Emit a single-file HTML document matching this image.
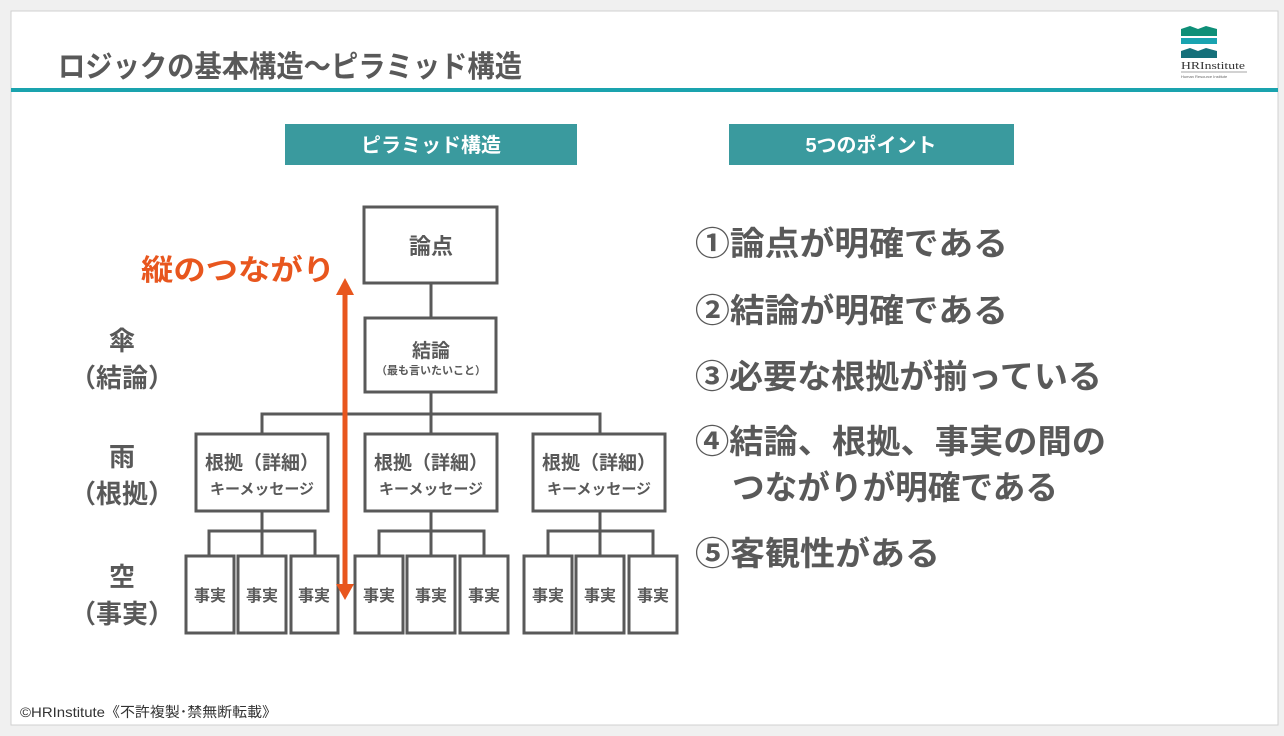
<!DOCTYPE html>
<html><head><meta charset="utf-8"><style>
html,body{margin:0;padding:0;background:#f0f0f0;}
svg{display:block;}
text{font-family:"Liberation Sans","Noto Sans CJK JP",sans-serif;font-weight:bold;}
</style></head><body>
<svg width="1284" height="736" viewBox="0 0 1284 736" xmlns="http://www.w3.org/2000/svg">
<rect x="0" y="0" width="1284" height="736" fill="#f0f0f0"/>
<rect x="11" y="11" width="1267" height="714" fill="#fff" stroke="#d0d0d0" stroke-width="1"/>
<rect x="11" y="88" width="1267" height="4" fill="#1aa3ae"/>
<text x="58" y="77" font-size="30" fill="#595959" textLength="464" lengthAdjust="spacingAndGlyphs">ロジックの基本構造～ピラミッド構造</text>
<!-- logo -->
<path d="M1181 29 L1190 26 L1198 29 L1206 26 L1217 29 L1217 36 L1181 36 Z" fill="#0e8f78"/>
<rect x="1181" y="38" width="36" height="6" fill="#19a3b0"/>
<path d="M1181 51 L1190 48 L1198 51 L1206 48 L1217 51 L1217 58 L1181 58 Z" fill="#15707a"/>
<text x="1181" y="69" font-size="11" fill="#333" textLength="64" lengthAdjust="spacingAndGlyphs" style="font-family:'Liberation Serif',serif;font-weight:normal">HRInstitute</text>
<line x1="1181" y1="72" x2="1247" y2="72" stroke="#888" stroke-width="0.7"/>
<text x="1181" y="78" font-size="4" fill="#666" style="font-weight:normal">Human Resource Institute</text>
<!-- headers -->
<rect x="285" y="124" width="292" height="41" fill="#3a9a9e"/>
<text x="431" y="152" font-size="20" fill="#fff" text-anchor="middle">ピラミッド構造</text>
<rect x="729" y="124" width="285" height="41" fill="#3a9a9e"/>
<text x="871" y="152" font-size="20" fill="#fff" text-anchor="middle">5つのポイント</text>
<!-- connectors -->
<g stroke="#595959" stroke-width="3" fill="none">
<line x1="431" y1="283" x2="431" y2="318"/>
<line x1="431" y1="392" x2="431" y2="414"/>
<polyline points="262,434 262,414 600,414 600,434"/>
<line x1="431" y1="414" x2="431" y2="434"/>
<line x1="262" y1="511" x2="262" y2="556"/>
<polyline points="209,556 209,531 315,531 315,556"/>
<line x1="431" y1="511" x2="431" y2="556"/>
<polyline points="379,556 379,531 484,531 484,556"/>
<line x1="600" y1="511" x2="600" y2="556"/>
<polyline points="548,556 548,531 653,531 653,556"/>
</g>
<g stroke="#595959" stroke-width="3" fill="#fff">
<rect x="364" y="207" width="133" height="76"/>
<rect x="365" y="318" width="131" height="74"/>
<rect x="196" y="434" width="132" height="77"/>
<rect x="365" y="434" width="132" height="77"/>
<rect x="533" y="434" width="132" height="77"/>
<rect x="186" y="556" width="48" height="77"/>
<rect x="238" y="556" width="48" height="77"/>
<rect x="291" y="556" width="47" height="77"/>
<rect x="355" y="556" width="48" height="77"/>
<rect x="407" y="556" width="48" height="77"/>
<rect x="460" y="556" width="48" height="77"/>
<rect x="524" y="556" width="48" height="77"/>
<rect x="576" y="556" width="48" height="77"/>
<rect x="629" y="556" width="48" height="77"/>
</g>
<g fill="#595959" text-anchor="middle">
<text x="431" y="254" font-size="22">論点</text>
<text x="431" y="357" font-size="19">結論</text>
<text x="431" y="374" font-size="11">（最も言いたいこと）</text>
<text x="262" y="469" font-size="19">根拠（詳細）</text>
<text x="262" y="494" font-size="15">キーメッセージ</text>
<text x="431" y="469" font-size="19">根拠（詳細）</text>
<text x="431" y="494" font-size="15">キーメッセージ</text>
<text x="599" y="469" font-size="19">根拠（詳細）</text>
<text x="599" y="494" font-size="15">キーメッセージ</text>
<text x="210" y="601" font-size="16">事実</text>
<text x="262" y="601" font-size="16">事実</text>
<text x="314" y="601" font-size="16">事実</text>
<text x="379" y="601" font-size="16">事実</text>
<text x="431" y="601" font-size="16">事実</text>
<text x="484" y="601" font-size="16">事実</text>
<text x="548" y="601" font-size="16">事実</text>
<text x="600" y="601" font-size="16">事実</text>
<text x="653" y="601" font-size="16">事実</text>
<text x="122" y="350" font-size="26">傘</text>
<text x="122" y="387" font-size="26">（結論）</text>
<text x="122" y="466" font-size="26">雨</text>
<text x="122" y="503" font-size="26">（根拠）</text>
<text x="122" y="586" font-size="26">空</text>
<text x="122" y="623" font-size="26">（事実）</text>
</g>
<!-- arrow -->
<line x1="345" y1="292" x2="345" y2="588" stroke="#e8561e" stroke-width="5"/>
<polygon points="336,295 345,278 354,295" fill="#e8561e"/>
<polygon points="336,584 345,600 354,584" fill="#e8561e"/>
<text x="141" y="280" font-size="29" fill="#e8561e" textLength="194" lengthAdjust="spacingAndGlyphs">縦のつながり</text>
<!-- points -->
<g fill="#595959" font-size="33">
<text x="695" y="255" textLength="313" lengthAdjust="spacingAndGlyphs">①論点が明確である</text>
<text x="695" y="322" textLength="313" lengthAdjust="spacingAndGlyphs">②結論が明確である</text>
<text x="695" y="388" textLength="407" lengthAdjust="spacingAndGlyphs">③必要な根拠が揃っている</text>
<text x="695" y="453" textLength="411" lengthAdjust="spacingAndGlyphs">④結論、根拠、事実の間の</text>
<text x="732" y="499" textLength="326" lengthAdjust="spacingAndGlyphs">つながりが明確である</text>
<text x="695" y="565" textLength="245" lengthAdjust="spacingAndGlyphs">⑤客観性がある</text>
</g>
<text x="20" y="717" font-size="14" fill="#333" textLength="257" lengthAdjust="spacingAndGlyphs" style="font-weight:normal">©HRInstitute《不許複製･禁無断転載》</text>
</svg>
</body></html>
